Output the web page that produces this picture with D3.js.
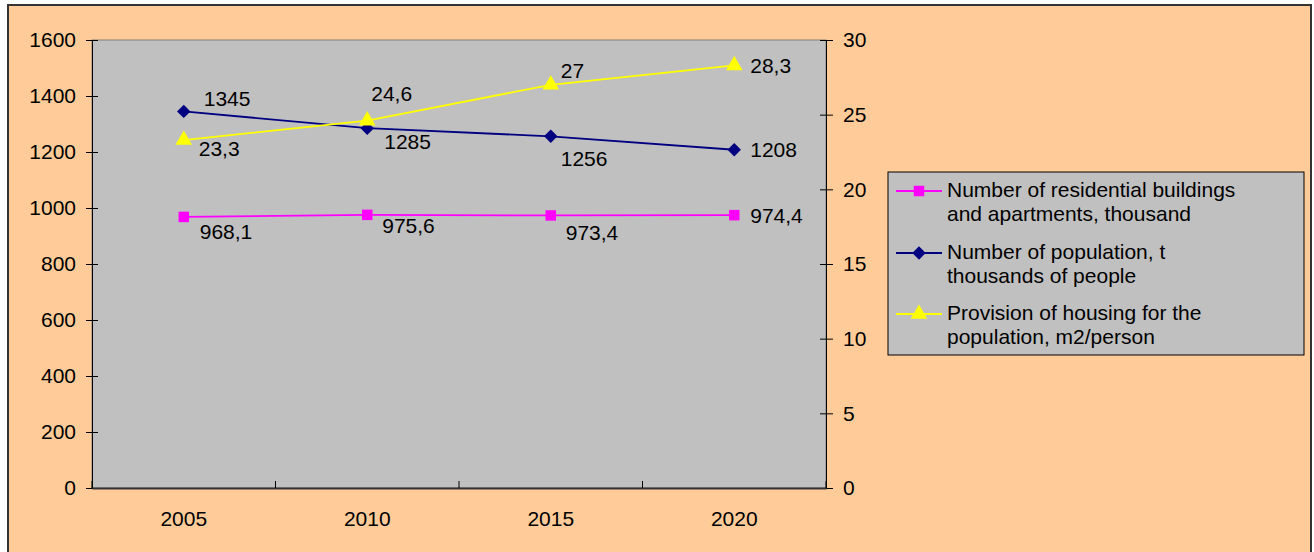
<!DOCTYPE html>
<html>
<head>
<meta charset="utf-8">
<script src="https://cdn.jsdelivr.net/npm/d3@7"></script>
<style>
  body { margin: 0; background: #fff; }
  svg text { font-family: "Liberation Sans", Arial, sans-serif; fill: #000; }
</style>
</head>
<body>
<div id="chart"></div>
<script>
// data
var years = ['2005', '2010', '2015', '2020'];
var buildings = [968.1, 975.6, 973.4, 974.4];
var population = [1345, 1285, 1256, 1208];
var housing = [23.3, 24.6, 27, 28.3];
var leftTicks = [0, 200, 400, 600, 800, 1000, 1200, 1400, 1600];
var rightTicks = [0, 5, 10, 15, 20, 25, 30];
var seriesNames = [
  ['Number of residential buildings', 'and apartments, thousand'],
  ['Number of population, t', 'thousands of people'],
  ['Provision of housing for the', 'population, m2/person']
];

var width = 1314, height = 552;
var plot = {left: 92, top: 40, right: 826, bottom: 488};
var fs = '21px';

var svg = d3.select('#chart').append('svg')
  .attr('width', width)
  .attr('height', height);

// outer chart area
svg.append('rect')
  .attr('x', 8).attr('y', 5)
  .attr('width', 1303).attr('height', 560)
  .attr('fill', '#FFCC99')
  .attr('stroke', '#333').attr('stroke-width', 2);

// plot area
svg.append('rect')
  .attr('x', plot.left).attr('y', plot.top)
  .attr('width', plot.right - plot.left).attr('height', plot.bottom - plot.top)
  .attr('fill', '#C0C0C0')
  .attr('stroke', '#808080');

var x = d3.scaleBand().domain(years).range([plot.left, plot.right]);
var yL = d3.scaleLinear().domain([0, 1600]).range([plot.bottom, plot.top]);
var yR = d3.scaleLinear().domain([0, 30]).range([plot.bottom, plot.top]);
var cx = function (d, i) { return x(years[i]) + x.bandwidth() / 2; };

// left axis
var gL = svg.append('g').attr('transform', 'translate(' + plot.left + ',0)')
  .call(d3.axisLeft(yL).tickValues(leftTicks).tickFormat(d3.format('d'))
    .tickSize(6).tickPadding(10).tickSizeOuter(0));
gL.selectAll('.tick line').attr('x2', -6).attr('x1', 6);

// right axis
var gR = svg.append('g').attr('transform', 'translate(' + plot.right + ',0)')
  .call(d3.axisRight(yR).tickValues(rightTicks).tickFormat(d3.format('d'))
    .tickSize(6).tickPadding(11).tickSizeOuter(0));
gR.selectAll('.tick line').attr('x1', -6).attr('x2', 7);

// bottom axis: ticks between categories, pointing up into the plot
var gB = svg.append('g').attr('transform', 'translate(0,' + plot.bottom + ')')
  .call(d3.axisBottom(x).tickSize(0).tickPadding(23).tickSizeOuter(0));
gB.selectAll('.tick line').remove();
gB.selectAll('.bnd').data(years.concat(['end'])).enter().append('line')
  .attr('x1', function (d, i) { return plot.left + i * x.bandwidth(); })
  .attr('x2', function (d, i) { return plot.left + i * x.bandwidth(); })
  .attr('y1', 0).attr('y2', -7)
  .attr('stroke', '#000');

[gL, gR, gB].forEach(function (g) {
  g.selectAll('.domain').attr('stroke', '#000');
  g.selectAll('.tick line').attr('stroke', '#000');
  g.selectAll('text').style('font-size', fs).attr('fill', '#000');
});
gB.select('.domain').attr('stroke', '#333').attr('stroke-width', 2);

// rotated square for the population series
var diamond = {
  draw: function (ctx, size) {
    var r = Math.sqrt(size / 2);
    ctx.moveTo(0, -r); ctx.lineTo(r, 0); ctx.lineTo(0, r); ctx.lineTo(-r, 0); ctx.closePath();
  }
};

var series = [
  {values: buildings, y: yL, color: '#FF00FF', marker: d3.symbolSquare, size: 110,
    labels: buildings.map(function (v) { return v.toFixed(1).replace('.', ','); }),
    off: [[16, 15], [15, 11], [15, 17], [16, 0]]},
  {values: population, y: yL, color: '#000080', marker: diamond, size: 90,
    labels: population.map(String),
    off: [[20, -13], [17, 13], [10, 22], [16, 0]]},
  {values: housing, y: yR, color: '#FFFF00', marker: d3.symbolTriangle, size: 120,
    labels: housing.map(function (v) { return String(v).replace('.', ','); }),
    off: [[15, 9], [4, -27], [10, -14], [16, 0]]}
];

series.forEach(function (s) {
  var line = d3.line()
    .x(cx)
    .y(function (d) { return s.y(d); });
  svg.append('path')
    .datum(s.values)
    .attr('d', line)
    .attr('fill', 'none')
    .attr('stroke', s.color)
    .attr('stroke-width', 1.8);

  svg.selectAll(null).data(s.values).enter().append('path')
    .attr('d', d3.symbol().type(s.marker).size(s.size))
    .attr('transform', function (d, i) { return 'translate(' + cx(d, i) + ',' + s.y(d) + ')'; })
    .attr('fill', s.color);

  svg.selectAll(null).data(s.values).enter().append('text')
    .attr('x', function (d, i) { return cx(d, i) + s.off[i][0]; })
    .attr('y', function (d, i) { return s.y(d) + s.off[i][1]; })
    .attr('dy', '0.35em')
    .style('font-size', fs)
    .text(function (d, i) { return s.labels[i]; });
});

// legend
var lg = svg.append('g').attr('transform', 'translate(888,172)');
lg.append('rect')
  .attr('width', 416).attr('height', 183)
  .attr('fill', '#C0C0C0')
  .attr('stroke', '#000');

var entryY = [19, 81, 142];
series.forEach(function (s, i) {
  var e = lg.append('g').attr('transform', 'translate(0,' + entryY[i] + ')');
  e.append('line')
    .attr('x1', 8).attr('x2', 54)
    .attr('stroke', s.color).attr('stroke-width', 1.8);
  e.append('path')
    .attr('d', d3.symbol().type(s.marker).size(s.size))
    .attr('transform', 'translate(31,0)')
    .attr('fill', s.color);
  var t = e.append('text')
    .attr('x', 59).attr('y', 0)
    .style('font-size', fs);
  seriesNames[i].forEach(function (ln, j) {
    t.append('tspan')
      .attr('x', 59)
      .attr('dy', j === 0 ? '0.3em' : '1.12em')
      .text(ln);
  });
});
</script>
</body>
</html>
